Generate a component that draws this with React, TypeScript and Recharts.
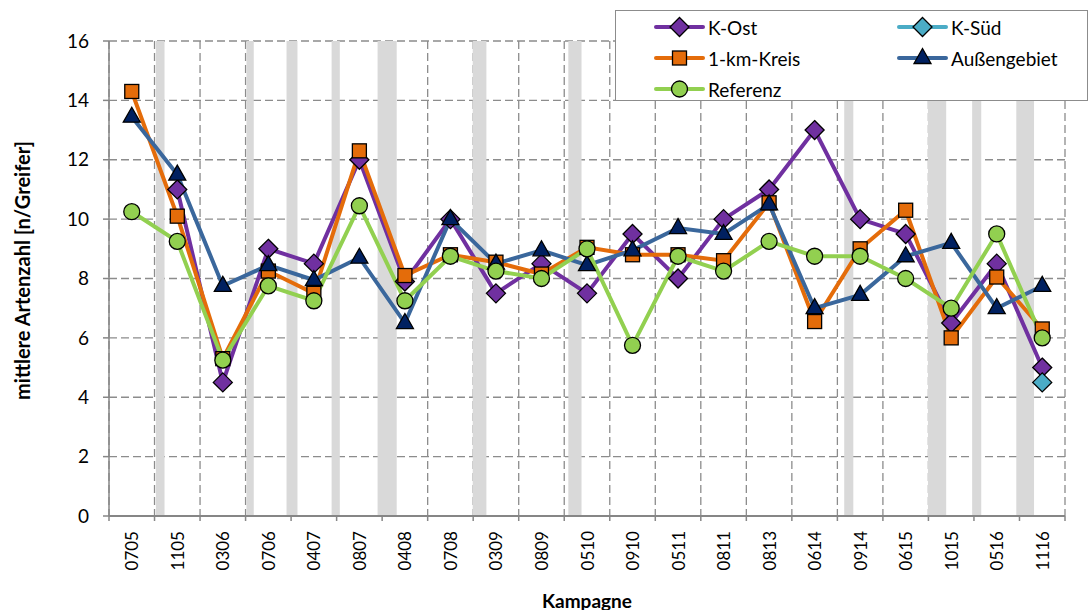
import React from 'react';
import { LineChart, Line, XAxis, YAxis, CartesianGrid, ReferenceArea, Label } from 'recharts';

const campaigns = ['0705', '1105', '0306', '0706', '0407', '0807', '0408', '0708', '0309', '0809', '0510', '0910', '0511', '0811', '0813', '0614', '0914', '0615', '1015', '0516', '1116'];
const kOst = [null, 11, 4.5, 9, 8.5, 12, 7.9, 10, 7.5, 8.5, 7.5, 9.5, 8, 10, 11, 13, 10, 9.5, 6.5, 8.5, 5];
const kSued = [null, null, null, null, null, null, null, null, null, null, null, null, null, null, null, null, null, null, null, null, 4.5];
const kreis1km = [14.3, 10.1, 5.3, 8.25, 7.5, 12.3, 8.1, 8.8, 8.55, 8.15, 9.05, 8.8, 8.8, 8.6, 10.55, 6.55, 9.0, 10.3, 6.0, 8.05, 6.3];
const aussen = [13.45, 11.5, 7.75, 8.45, 7.95, 8.7, 6.5, 10, 8.5, 8.95, 8.45, 8.95, 9.7, 9.5, 10.5, 7.0, 7.45, 8.75, 9.2, 7.0, 7.75];
const referenz = [10.25, 9.25, 5.25, 7.75, 7.25, 10.45, 7.25, 8.75, 8.25, 8.0, 9.0, 5.75, 8.75, 8.25, 9.25, 8.75, 8.75, 8.0, 7.0, 9.5, 6.0];
const yTicks = [0, 2, 4, 6, 8, 10, 12, 14, 16];
// grey marker spans, in campaign-index units along the x axis
const markerSpans: [number, number][] = [
  [1.03, 1.22], [3.02, 3.18], [3.9, 4.14], [4.89, 5.07], [5.9, 6.32], [7.99, 8.29],
  [10.09, 10.38], [16.15, 16.35], [17.99, 18.39], [18.96, 19.16], [19.93, 20.32],
];

const N = campaigns.length;
// ticks: category boundaries (integers) and category centres (halves)
const xTicks: number[] = [];
for (let i = 0; i <= N; i++) {
  xTicks.push(i);
  if (i < N) xTicks.push(i + 0.5);
}

const series = [
  { key: 'kOst', name: 'K-Ost', values: kOst, line: '#7030A0', fill: '#7030A0', shape: 'diamond' },
  { key: 'kSued', name: 'K-Süd', values: kSued, line: '#4BACC6', fill: '#4BACC6', shape: 'diamond' },
  { key: 'kreis', name: '1-km-Kreis', values: kreis1km, line: '#E46C0A', fill: '#E46C0A', shape: 'square' },
  { key: 'aussen', name: 'Außengebiet', values: aussen, line: '#3A679C', fill: '#002060', shape: 'triangle' },
  { key: 'ref', name: 'Referenz', values: referenz, line: '#92D050', fill: '#92D050', shape: 'circle' },
];

const data = campaigns.map((c, i) => {
  const row: any = { campaign: c, pos: i + 0.5 };
  series.forEach((s) => { row[s.key] = s.values[i]; });
  return row;
});

const FONT = 'Lato, "Liberation Sans", sans-serif';
const TICK_SIZE = 5;
const TICK_MARGIN = 10;

function Marker({ shape, cx, cy, fill }: { shape: string; cx: number; cy: number; fill: string }) {
  const st = { fill, stroke: '#000', strokeWidth: 1.3 };
  if (shape === 'diamond') {
    const r = 9.5;
    return <polygon points={`${cx},${cy - r} ${cx + r},${cy} ${cx},${cy + r} ${cx - r},${cy}`} {...st} />;
  }
  if (shape === 'square') {
    return <rect x={cx - 7} y={cy - 7} width={14} height={14} {...st} />;
  }
  if (shape === 'triangle') {
    return <polygon points={`${cx},${cy - 9.5} ${cx + 8.5},${cy + 5.5} ${cx - 8.5},${cy + 5.5}`} {...st} />;
  }
  return <circle cx={cx} cy={cy} r={8} {...st} />;
}

const XTick = (props: any) => {
  const { x, y, payload } = props;
  const v = payload.value as number;
  if (Number.isInteger(v)) {
    const axisY = y - TICK_SIZE - TICK_MARGIN;
    return <line x1={x} x2={x} y1={axisY} y2={axisY + TICK_SIZE} stroke="#868686" strokeWidth={1.5} />;
  }
  const label = campaigns[Math.floor(v)];
  return (
    <text x={x} y={y} transform={`rotate(-90 ${x} ${y})`} textAnchor="end" dominantBaseline="central"
      fontSize={17} fill="#000" fontFamily={FONT}>
      {label}
    </text>
  );
};

function LegendBox() {
  const cols = [40, 283];
  const rows = [16, 47, 78];
  return (
    <div style={{ position: 'absolute', left: 615, top: 10, width: 473, height: 91, border: '1.5px solid #8c8c8c', background: '#fff', boxSizing: 'border-box' }}>
      <svg width={470} height={88} style={{ position: 'absolute', left: 0, top: 0, overflow: 'visible' }}>
        {series.map((s, i) => {
          const x0 = cols[i % 2];
          const y0 = rows[Math.floor(i / 2)];
          return (
            <g key={s.key}>
              <line x1={x0} x2={x0 + 47} y1={y0} y2={y0} stroke={s.line} strokeWidth={4} strokeLinecap="round" />
              <Marker shape={s.shape} cx={x0 + 23.5} cy={y0} fill={s.fill} />
              <text x={x0 + 52} y={y0} dominantBaseline="central" fontSize={19} fill="#000" fontFamily={FONT}>{s.name}</text>
            </g>
          );
        })}
      </svg>
    </div>
  );
}

export default function App() {
  return (
    <div style={{ position: 'absolute', left: 0, top: 0, width: 1091, height: 610, background: '#fff', fontFamily: FONT }}>
      <LineChart width={1091} height={610} data={data} margin={{ top: 41, right: 26, left: 0, bottom: 0 }}>
        <XAxis xAxisId="num" dataKey="pos" type="number" domain={[0, N]} allowDataOverflow ticks={xTicks} interval={0}
          height={94} tickLine={false} tickSize={TICK_SIZE} tickMargin={TICK_MARGIN} tick={<XTick />}
          stroke="#868686" strokeWidth={2}>
          <Label content={(p: any) => {
            const vb = p.viewBox;
            return <text x={vb.x + vb.width / 2} y={vb.y + 84} textAnchor="middle" dominantBaseline="central" fontWeight="bold" fontSize={19} fill="#000" fontFamily={FONT}>Kampagne</text>;
          }} />
        </XAxis>
        <YAxis domain={[0, 16]} ticks={yTicks} width={109} tickSize={6} tickMargin={14} stroke="#868686" strokeWidth={1.5}
          tick={{ fill: '#000', fontSize: 19, fontFamily: FONT }} interval={0}>
          <Label content={(p: any) => {
            const vb = p.viewBox;
            const cx = vb.x + 22;
            const cy = vb.y + vb.height / 2 - 8;
            return <text x={cx} y={cy} transform={`rotate(-90 ${cx} ${cy})`} textAnchor="middle" dominantBaseline="central" fontWeight="bold" fontSize={20} fill="#000" fontFamily={FONT}>mittlere Artenzahl [n/Greifer]</text>;
          }} />
        </YAxis>
        {markerSpans.map(([a, b], i) => (
          <ReferenceArea key={i} xAxisId="num" x1={a} x2={b} fill="#D9D9D9" fillOpacity={1} stroke="none" />
        ))}
        <CartesianGrid xAxisId="num" strokeDasharray="8 4" stroke="#8c8c8c" strokeWidth={1.3}
          verticalCoordinatesGenerator={({ offset }: any) =>
            Array.from({ length: N + 1 }, (_, i) => offset.left + (i * offset.width) / N)} />
        {series.map((s) => (
          <Line key={s.key} xAxisId="num" dataKey={s.key} name={s.name} stroke={s.line} strokeWidth={4}
            isAnimationActive={false} activeDot={false}
            dot={(p: any) => (p.cy == null || p.value == null)
              ? <g key={`${s.key}-${p.index}`} />
              : <Marker key={`${s.key}-${p.index}`} shape={s.shape} cx={p.cx} cy={p.cy} fill={s.fill} />} />
        ))}
      </LineChart>
      <LegendBox />
    </div>
  );
}
